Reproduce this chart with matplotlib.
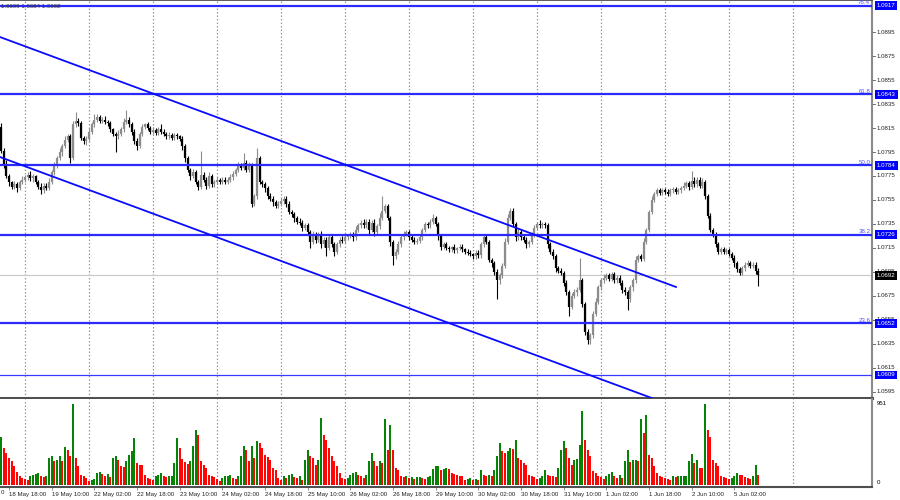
import matplotlib
matplotlib.use('Agg')
import matplotlib.pyplot as plt
from matplotlib.transforms import blended_transform_factory
import numpy as np

plt.rcParams['font.family'] = ['Liberation Sans', 'DejaVu Sans']

# H1 bars, 18 May 15:00 -> 5 Jun 11:00, prices in pips above 1.0600
first_open = 216
closes = [196,185,175,170,166,168,165,170,172,174,
          176,173,175,170,166,163,167,165,170,178,
          184,190,195,200,205,208,190,218,221,219,
          207,204,206,212,218,222,224,221,222,220,
          219,214,210,208,210,214,220,222,218,212,
          204,200,210,216,218,215,212,213,211,214,
          212,210,208,209,207,209,208,206,200,190,
          180,175,178,170,166,176,172,167,175,168,
          170,172,170,172,170,172,174,177,180,184,
          182,186,180,184,152,158,190,170,168,165,
          158,156,153,150,152,154,156,152,145,143,
          140,137,136,132,134,128,120,126,122,126,
          118,122,115,124,118,112,118,122,121,124,
          125,126,124,130,134,136,134,137,130,136,
          128,133,140,146,150,140,120,108,112,118,
          124,127,128,124,122,120,121,124,130,135,
          134,137,140,135,125,116,118,115,114,116,
          113,115,116,114,112,111,110,108,111,109,
          118,124,120,105,102,95,88,92,100,120,
          140,146,135,124,128,124,122,118,120,126,
          132,135,134,135,134,118,112,108,98,96,
          94,86,78,66,75,78,80,88,68,45,
          38,42,60,70,82,88,90,92,89,93,
          88,90,86,80,78,72,82,88,105,108,
          106,120,130,145,155,160,163,161,163,162,
          160,163,164,162,163,165,167,169,166,171,
          168,172,167,170,158,142,130,126,118,112,
          114,112,113,110,107,102,97,94,98,101,
          102,100,101,96,92]
hi_ext = [3,2,3,2,1,3,2,2,3,2, 2,3,2,1,2,3,2,2,3,2, 3,2,3,2,3,2,2,3,7,2,
          2,1,2,3,2,5,3,2,2,3, 2,2,1,2,3,2,3,8,2,2, 2,3,2,2,1,2,2,3,2,2,
          4,2,2,3,2,2,2,1,2,2, 2,2,3,2,2,20,2,2,3,2, 2,2,1,2,2,2,3,2,2,3,
          2,8,2,3,2,2,8,2,2,2, 2,3,2,2,2,3,2,2,2,2, 2,2,3,2,2,2,2,3,2,2,
          3,2,2,3,2,2,2,2,3,2, 2,2,2,3,2,2,3,2,2,2, 3,2,4,12,2,2,2,2,2,3,
          2,2,2,2,2,2,2,2,2,2, 2,2,3,2,2,2,2,2,2,1, 2,1,2,2,1,2,2,1,2,2,
          2,3,2,2,2,2,2,2,2,3, 3,2,2,2,3,2,2,2,2,2, 2,2,3,2,2,2,2,2,2,2,
          2,2,2,2,2,3,2,19,2,2, 2,2,2,3,2,2,3,2,2,2, 2,2,2,2,2,2,2,2,3,2,
          2,3,2,2,3,2,2,2,2,2, 2,2,2,2,2,2,3,2,2,8, 3,2,2,3,2,2,2,2,2,2,
          2,2,2,2,2,2,2,2,2,2, 3,2,2,2,2]
lo_ext = [2,3,2,3,2,2,3,2,2,2, 2,2,3,2,2,3,2,2,2,2, 2,2,2,3,2,2,4,2,2,2,
          2,2,3,2,2,2,2,2,2,2, 2,2,2,13,2,2,2,2,2,3, 2,3,2,2,2,2,2,2,2,2,
          2,2,2,2,2,2,2,2,3,3, 2,3,2,2,3,2,2,3,2,2, 2,2,2,2,2,2,2,2,2,2,
          2,2,2,2,3,2,2,2,2,3, 2,2,3,2,2,2,2,3,2,2, 3,2,2,3,2,2,5,2,3,2,
          3,2,7,2,2,4,2,2,2,2, 2,2,3,2,2,2,2,2,3,2, 3,2,2,2,2,2,3,7,2,2,
          2,2,2,2,2,2,2,2,2,2, 2,2,2,2,3,3,2,2,2,2, 2,2,2,2,2,2,2,2,2,2,
          2,2,2,2,3,3,16,3,2,2, 2,2,2,3,2,2,2,3,2,2, 2,2,2,2,2,3,2,2,3,2,
          2,3,2,8,2,2,3,2,2,3, 3,3,2,2,2,2,2,2,2,2, 2,2,2,3,2,9,2,3,2,2,
          2,2,2,2,2,2,2,2,2,2, 2,2,2,2,2,2,2,2,3,2, 2,2,2,2,2,2,2,2,2,2,
          2,2,2,2,2,3,2,2,2,2, 2,2,2,3,9]
volumes = [567,430,371,313,274,215,145,98,78,66,
           59,98,117,129,137,98,90,95,313,332,
           274,285,340,274,442,411,332,950,313,215,
           117,98,78,39,59,66,137,145,120,100,
           125,90,313,332,293,215,207,274,352,391,
           547,254,235,227,117,78,70,59,98,117,
           137,98,90,100,106,254,547,430,300,260,
           240,274,450,645,587,274,235,196,117,105,
           90,60,39,78,98,106,117,78,66,98,
           332,450,411,274,450,313,508,489,430,352,
           325,293,196,176,78,59,98,78,117,125,
           90,78,98,59,293,411,332,313,235,293,
           782,587,528,430,332,274,215,137,78,66,
           78,110,137,145,117,98,78,117,274,371,
           274,215,280,254,770,411,704,411,196,176,
           98,90,100,78,86,70,85,90,78,66,
           90,98,184,215,223,176,184,190,180,137,
           129,117,106,98,59,66,78,59,66,59,
           176,117,98,117,98,176,332,489,391,371,
           391,430,420,528,313,293,254,235,117,106,
           90,66,78,98,176,117,106,98,90,196,
           411,508,430,313,235,293,300,469,872,528,
           411,332,156,137,98,90,66,98,129,145,
           106,78,117,78,274,411,262,285,293,274,
           770,606,821,352,313,215,137,98,90,78,
           66,59,98,90,98,99,100,106,274,364,
           254,293,196,190,951,645,567,293,254,215,
           106,90,78,66,80,98,137,117,115,90,
           80,66,98,235,117]
assert len(closes) == len(hi_ext) == len(lo_ext) == len(volumes) == 285

day_start_bars = [9, 33, 57, 81, 105, 129, 153, 177, 201, 225, 249, 273, 297]
date_bars = [3, 19, 35, 51, 67, 83, 99, 115, 131, 147, 163, 179, 195, 211, 227, 243, 259, 275]
date_labels = ['18 May 18:00', '19 May 10:00', '22 May 02:00', '22 May 18:00', '23 May 10:00',
               '24 May 02:00', '24 May 18:00', '25 May 10:00', '26 May 02:00', '26 May 18:00',
               '29 May 10:00', '30 May 02:00', '30 May 18:00', '31 May 10:00', '1 Jun 02:00',
               '1 Jun 18:00', '2 Jun 10:00', '5 Jun 02:00']
price_ticks = [1.0595, 1.0615, 1.0635, 1.0655, 1.0675, 1.0695, 1.0715, 1.0735,
               1.0755, 1.0775, 1.0795, 1.0815, 1.0835, 1.0855, 1.0875, 1.0895]
fib_levels = [1.0917, 1.0843, 1.0784, 1.0726, 1.0652]
fib_names = ['76.4', '61.8', '50.0', '38.2', '23.6']
support_level = 1.0609
last_price = 1.0692
upper_channel = ([-0.375, 253.1], [1.08909, 1.06824])
lower_channel = ([-0.375, 262.1], [1.07908, 1.05749])

c = np.array(closes, dtype=float)
o = np.concatenate([[first_open], c[:-1]])
hi = np.maximum(o, c) + np.array(hi_ext)
lo = np.minimum(o, c) - np.array(lo_ext)
O, C, H, L = [1.06 + a / 10000 for a in (o, c, hi, lo)]
bars = np.arange(len(c))

fig = plt.figure(figsize=(9, 5), dpi=100)
ax = fig.add_axes([0, 0.204, 0.96889, 0.796])
axv = fig.add_axes([0, 0.026, 0.96889, 0.176], sharex=ax)
ax.set_xlim(-0.375, 326.6)
ax.set_ylim(1.05898, 1.09218)
axv.set_ylim(-29.5, 1010)

for a in (ax, axv):
    for b in day_start_bars:
        a.axvline(b, color='#9a9a9a', ls=(0, (1.2, 1.6)), lw=0.9, zorder=0)
    a.spines['left'].set_visible(False)
    a.spines['right'].set_color('#8a8a8a')
    a.spines['right'].set_linewidth(1.5)
    a.set_yticks([])
ax.spines['top'].set_color('#404040')
ax.spines['top'].set_linewidth(1.2)
ax.spines['bottom'].set_color('#505050')
ax.spines['bottom'].set_linewidth(2.2)
axv.spines['top'].set_visible(False)
axv.spines['bottom'].set_color('#505050')
axv.spines['bottom'].set_linewidth(1.5)
ax.tick_params(axis='x', bottom=False, labelbottom=False)

# candles
cols = np.where(C >= O, '#8c8c8c', '#000000')
ax.vlines(bars, L, H, colors=cols, lw=0.8, zorder=2)
top = np.maximum(O, C)
bot = np.minimum(O, C)
top = np.where(top - bot < 0.00005, bot + 0.00005, top)
ax.vlines(bars, bot, top, colors=cols, lw=1.6, zorder=2)

# levels and channel
ax.axhline(last_price, color='#c8c8c8', lw=0.8, zorder=1)
for lev in fib_levels:
    ax.axhline(lev, color='#2a2aff', lw=1.6, zorder=3)
ax.axhline(support_level, color='#3a3aff', lw=0.9, zorder=3)
ax.plot(*upper_channel, color='#0a0aff', lw=1.3, zorder=3)
ax.plot(*lower_channel, color='#0a0aff', lw=1.3, zorder=3)

tr = blended_transform_factory(ax.transAxes, ax.transData)
fs = 4.4
for name, lev in zip(fib_names, fib_levels):
    ax.text(0.998, lev + 0.00003, name, transform=tr, ha='right', va='bottom',
            fontsize=fs, color='#5050ff', zorder=4)
for t in price_ticks:
    ax.plot([1.0, 1.0035], [t, t], transform=tr, color='#555555', lw=0.6, clip_on=False)
    ax.text(1.0058, t, '%.4f' % t, transform=tr, ha='left', va='center',
            fontsize=fs, color='#222222', clip_on=False)
for lev in fib_levels + [support_level]:
    ax.text(1.0055, lev, '%.4f' % lev, transform=tr, ha='left', va='center', fontsize=fs,
            color='white', clip_on=False, zorder=10,
            bbox=dict(boxstyle='square,pad=0.3', fc='#0000ff', ec='none'))
ax.text(1.0055, last_price, '%.4f' % last_price, transform=tr, ha='left', va='center',
        fontsize=fs, color='white', clip_on=False, zorder=10,
        bbox=dict(boxstyle='square,pad=0.3', fc='#000000', ec='none'))
fig.text(0.001, 0.987, '1.0699 1.0684 1.0692', fontsize=fs, color='#333333', va='center')

# volumes
vol = np.array(volumes)
vcols = ['#008000' if i == 0 or vol[i] > vol[i - 1] else '#ff0000' for i in range(len(vol))]
axv.vlines(bars, 0, vol, colors=vcols, lw=1.4, zorder=2)
trv = blended_transform_factory(axv.transAxes, axv.transData)
axv.text(1.0058, 951, '951', transform=trv, ha='left', va='center', fontsize=fs, clip_on=False)
axv.text(1.0058, 0, '0', transform=trv, ha='left', va='bottom', fontsize=fs, clip_on=False)

axv.set_xticks(date_bars)
axv.set_xticklabels(date_labels, fontsize=fs, ha='left', color='#222222')
axv.tick_params(axis='x', length=2.5, width=0.5, pad=1.2, color='#666666')
fig.text(0.001, 0.016, '0', ha='left', va='center', fontsize=fs, color='#222222')

fig.savefig('out.png', dpi=100)
